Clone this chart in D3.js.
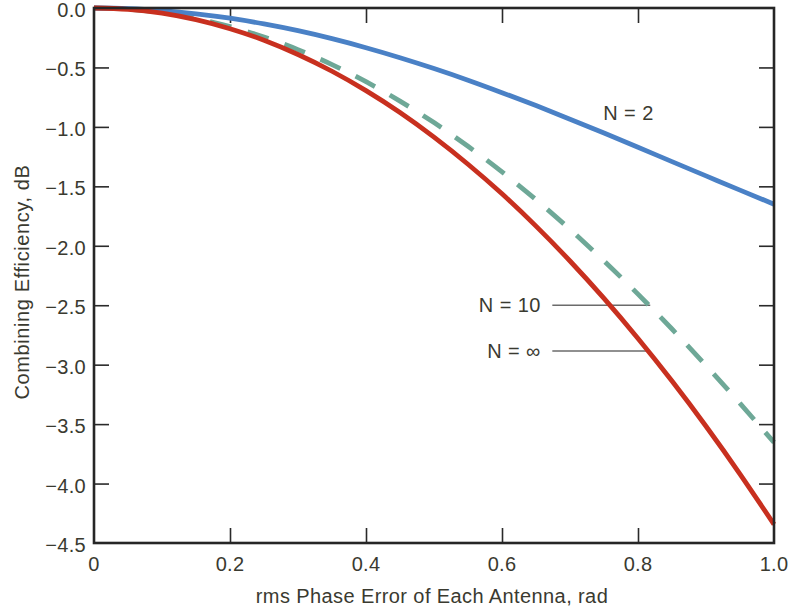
<!DOCTYPE html>
<html>
<head>
<meta charset="utf-8">
<script src="https://cdn.jsdelivr.net/npm/d3@7"></script>
<style>
  body { margin: 0; background: #fff; }
  text { font-family: "Liberation Sans", Arial, sans-serif; fill: #3a3a30; }
</style>
</head>
<body>
<div id="chart"></div>
<script>
var width = 794;
var height = 612;

// rms phase error (rad)
var phaseError = [0, 0.05, 0.1, 0.15, 0.2, 0.25, 0.3, 0.35, 0.4, 0.45, 0.5,
                  0.55, 0.6, 0.65, 0.7, 0.75, 0.8, 0.85, 0.9, 0.95, 1.0];
// combining efficiency, dB
var effN2   = [0, -0.005, -0.022, -0.049, -0.086, -0.134, -0.191, -0.258, -0.334, -0.418, -0.509,
               -0.607, -0.712, -0.821, -0.935, -1.052, -1.171, -1.292, -1.412, -1.532, -1.650];
var effN10  = [0, -0.010, -0.039, -0.088, -0.156, -0.244, -0.350, -0.476, -0.620, -0.783, -0.964,
               -1.163, -1.379, -1.612, -1.862, -2.127, -2.407, -2.700, -3.007, -3.326, -3.654];
var effNinf = [0, -0.011, -0.043, -0.098, -0.174, -0.271, -0.391, -0.532, -0.695, -0.879, -1.086,
               -1.314, -1.563, -1.835, -2.128, -2.443, -2.780, -3.138, -3.518, -3.920, -4.343];

var xTicks = [0, 0.2, 0.4, 0.6, 0.8, 1.0];
var yTicks = [0, -0.5, -1.0, -1.5, -2.0, -2.5, -3.0, -3.5, -4.0, -4.5];

var margin = {top: 8, right: 20, bottom: 69, left: 94};
var innerW = width - margin.left - margin.right;   // 680
var innerH = height - margin.top - margin.bottom;  // 535

var x = d3.scaleLinear().domain([0, 1]).range([0, innerW]);
var y = d3.scaleLinear().domain([0, -4.5]).range([0, innerH]);

var svg = d3.select("#chart").append("svg")
  .attr("width", width)
  .attr("height", height);

var g = svg.append("g")
  .attr("transform", "translate(" + margin.left + "," + margin.top + ")");

var tickLen = 15;
var fontSize = "20px";

// inner ticks on all four sides
var innerX = xTicks.filter(function(d){ return d > 0 && d < 1; });
var innerY = yTicks.filter(function(d){ return d < 0 && d > -4.5; });

g.append("g").call(d3.axisBottom(x).tickValues(innerX).tickSize(-tickLen).tickFormat(""))
  .attr("transform", "translate(0," + innerH + ")");
g.append("g").call(d3.axisTop(x).tickValues(innerX).tickSize(-tickLen).tickFormat(""));
g.append("g").call(d3.axisLeft(y).tickValues(innerY).tickSize(-tickLen).tickFormat(""));
g.append("g").call(d3.axisRight(y).tickValues(innerY).tickSize(-tickLen).tickFormat(""))
  .attr("transform", "translate(" + innerW + ",0)");
g.selectAll(".domain").remove();
g.selectAll(".tick line").attr("stroke", "#2a2a2a").attr("stroke-width", 1.6);

// tick labels
g.selectAll(".xlab").data(xTicks).enter().append("text")
  .attr("x", function(d){ return x(d); })
  .attr("y", innerH + 28)
  .attr("text-anchor", "middle")
  .attr("font-size", fontSize)
  .attr("letter-spacing", "0.3px")
  .text(function(d){ return d === 0 ? "0" : d.toFixed(1); });

g.selectAll(".ylab").data(yTicks).enter().append("text")
  .attr("x", -8)
  .attr("y", function(d){ return y(d); })
  .attr("dy", "0.45em")
  .attr("text-anchor", "end")
  .attr("font-size", fontSize)
  .attr("letter-spacing", "0.3px")
  .text(function(d){ return d === 0 ? "0.0" : "\u2212" + Math.abs(d).toFixed(1); });

// axis titles
svg.append("text")
  .attr("x", 432)
  .attr("y", 603)
  .attr("text-anchor", "middle")
  .attr("font-size", fontSize)
  .attr("letter-spacing", "0.4px")
  .text("rms Phase Error of Each Antenna, rad");

svg.append("text")
  .attr("transform", "translate(29,282) rotate(-90)")
  .attr("text-anchor", "middle")
  .attr("font-size", fontSize)
  .attr("letter-spacing", "0.6px")
  .text("Combining Efficiency, dB");

// leader lines and curve labels
var labelText = ["N = 2", "N = 10", "N = \u221E"];
var labelX    = [0.749, 0.657, 0.657];
var labelY    = [-0.88, -2.50, -2.885];
var leaderEnd = [null, 0.818, 0.816];

g.selectAll(".leader").data([1, 2]).enter().append("line")
  .attr("x1", x(0.674))
  .attr("x2", function(i){ return x(leaderEnd[i]); })
  .attr("y1", function(i){ return y(labelY[i]); })
  .attr("y2", function(i){ return y(labelY[i]); })
  .attr("stroke", "#6b6b6b")
  .attr("stroke-width", 1.5);

g.selectAll(".clabel").data(labelText).enter().append("text")
  .attr("x", function(d, i){ return x(labelX[i]); })
  .attr("y", function(d, i){ return y(labelY[i]); })
  .attr("dy", "0.36em")
  .attr("text-anchor", function(d, i){ return i === 0 ? "start" : "end"; })
  .attr("font-size", fontSize)
  .attr("letter-spacing", "0.4px")
  .text(function(d){ return d; });

// curves
var line = d3.line()
  .x(function(d){ return x(d[0]); })
  .y(function(d){ return y(d[1]); })
  .curve(d3.curveNatural);

var series = [
  {vals: effN10,  color: "#6ea897", dash: "22,17"},
  {vals: effN2,   color: "#4a81c6", dash: null},
  {vals: effNinf, color: "#c8301f", dash: null}
];

g.selectAll(".curve").data(series).enter().append("path")
  .attr("d", function(s){ return line(phaseError.map(function(p, i){ return [p, s.vals[i]]; })); })
  .attr("fill", "none")
  .attr("stroke", function(s){ return s.color; })
  .attr("stroke-width", 4.8)
  .attr("stroke-dasharray", function(s){ return s.dash; });

// frame
g.append("rect")
  .attr("x", 0).attr("y", 0)
  .attr("width", innerW).attr("height", innerH)
  .attr("fill", "none")
  .attr("stroke", "#262626")
  .attr("stroke-width", 2.6);
</script>
</body>
</html>
